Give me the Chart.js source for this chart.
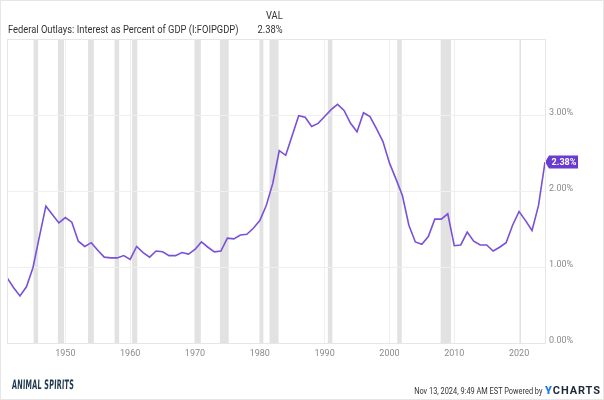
<!DOCTYPE html>
<html>
<head>
<meta charset="utf-8">
<script src="https://cdn.jsdelivr.net/npm/chart.js@4.4.1/dist/chart.umd.min.js"></script>
<style>
  html, body { margin: 0; padding: 0; background: #fff; }
  #wrap { position: relative; width: 604px; height: 400px; overflow: hidden; font-family: Roboto, "Liberation Sans", sans-serif; }
  #frame { position: absolute; left: 0; top: 0; width: 604px; height: 400px; box-sizing: border-box; border: 1px solid #e6e6e6; pointer-events: none; }
  canvas { position: absolute; left: 0; top: 0; }
  .t { position: absolute; white-space: nowrap; color: #333; }
  #title { left: 8px; top: 23px; font-size: 11px; line-height: 14px; transform: scaleX(0.85); transform-origin: left center; }
  #valh { right: 321px; top: 9px; font-size: 11px; line-height: 14px; text-align: right; transform: scaleX(0.85); transform-origin: right center; }
  #valv { right: 321px; top: 23px; font-size: 11px; line-height: 14px; text-align: right; transform: scaleX(0.85); transform-origin: right center; }
  #stamp { right: 62px; top: 385px; font-size: 9px; line-height: 12px; color: #333; transform: scaleX(0.82); transform-origin: right center; }
  #ych { left: 545px; top: 384px; font-size: 11px; line-height: 14px; font-weight: 700; letter-spacing: 0.9px; color: #1e2a3a; }
  #ych b { color: #1f7ae0; }
  #logo { left: 12px; top: 377px; font-family: "DejaVu Sans Condensed", "DejaVu Sans", sans-serif; font-weight: 700; font-size: 13px; line-height: 16px; color: #1f3850; transform: scaleX(0.56) skewX(-4deg); transform-origin: left center; letter-spacing: 0.3px; }
</style>
</head>
<body>
<div id="wrap">
  <canvas id="c" width="604" height="400"></canvas>
  <div class="t" id="title">Federal Outlays: Interest as Percent of GDP (I:FOIPGDP)</div>
  <div class="t" id="valh">VAL</div>
  <div class="t" id="valv">2.38%</div>
  <div class="t" id="logo">ANIMAL SPIRITS</div>
  <div class="t" id="stamp">Nov 13, 2024, 9:49 AM EST Powered by</div>
  <div class="t" id="ych"><b>Y</b>CHARTS</div>
  <div id="frame"></div>
</div>
<script>
// Point dates (each annual value is dated at the end of its year on the chart)
const pointDates = [
  1941,1942,1943,1944,1945,1946,1947,1948,1949,1950,
  1951,1952,1953,1954,1955,1956,1957,1958,1959,1960,
  1961,1962,1963,1964,1965,1966,1967,1968,1969,1970,
  1971,1972,1973,1974,1975,1976,1977,1978,1979,1980,
  1981,1982,1983,1984,1985,1986,1987,1988,1989,1990,
  1991,1992,1993,1994,1995,1996,1997,1998,1999,2000,
  2001,2002,2003,2004,2005,2006,2007,2008,2009,2010,
  2011,2012,2013,2014,2015,2016,2017,2018,2019,2020,
  2021,2022,2023,2024
];
// Interest as percent of GDP (%)
const interestPctGdp = [
  0.86,0.73,0.62,0.74,0.99,1.40,1.80,1.69,1.58,1.65,
  1.59,1.34,1.27,1.32,1.22,1.13,1.12,1.12,1.15,1.10,
  1.27,1.19,1.13,1.21,1.20,1.15,1.15,1.19,1.17,1.23,
  1.33,1.26,1.20,1.21,1.38,1.37,1.42,1.43,1.51,1.61,
  1.81,2.10,2.53,2.47,2.73,2.99,2.97,2.85,2.89,2.98,
  3.07,3.14,3.06,2.89,2.78,3.03,2.98,2.82,2.65,2.37,
  2.16,1.94,1.55,1.33,1.30,1.40,1.63,1.63,1.70,1.28,
  1.29,1.46,1.34,1.29,1.29,1.21,1.26,1.32,1.55,1.73,
  1.61,1.48,1.81,2.38
];
// Recession periods (decimal years)
const recessionStarts = [1945.1,1948.85,1953.5,1957.6,1960.3,1969.9,1973.85,1980.0,1981.5,1990.5,2001.2,2007.9,2020.1];
const recessionEnds   = [1945.8,1949.8,1954.4,1958.3,1961.1,1970.9,1975.2,1980.55,1982.9,1991.2,2001.9,2009.5,2020.3];
// Axis ticks
const xTickYears = [1950,1960,1970,1980,1990,2000,2010,2020];
const yTickValues = [0,1,2,3,4];

const points = pointDates.map((d, i) => ({ x: d, y: interestPctGdp[i] }));

const recessionPlugin = {
  id: 'recessions',
  beforeDraw(chart) {
    const { ctx, chartArea: a, scales: { x } } = chart;
    ctx.save();
    ctx.fillStyle = '#e2e2e2';
    recessionStarts.forEach((s, i) => {
      const x0 = x.getPixelForValue(s), x1 = x.getPixelForValue(recessionEnds[i]);
      ctx.fillRect(x0, a.top, Math.max(1, x1 - x0), a.bottom - a.top);
    });
    ctx.restore();
  },
  afterDraw(chart) {
    const { ctx, chartArea: a } = chart;
    ctx.save();
    ctx.strokeStyle = '#e6e6e6';
    ctx.lineWidth = 1;
    ctx.strokeRect(Math.round(a.left) + 0.5, Math.round(a.top) + 0.5, Math.round(a.right - a.left), Math.round(a.bottom - a.top));
    ctx.restore();
  }
};

const endTagPlugin = {
  id: 'endTag',
  afterDatasetsDraw(chart) {
    const meta = chart.getDatasetMeta(0);
    const last = meta.data[meta.data.length - 1];
    const v = interestPctGdp[interestPctGdp.length - 1];
    const { ctx } = chart;
    const x = last.x, y = last.y;
    ctx.save();
    ctx.fillStyle = '#6a3bd0';
    ctx.beginPath();
    ctx.moveTo(x, y);
    ctx.lineTo(x + 4, y - 6.5);
    ctx.lineTo(x + 33, y - 6.5);
    ctx.lineTo(x + 33, y + 6.5);
    ctx.lineTo(x + 4, y + 6.5);
    ctx.closePath();
    ctx.fill();
    ctx.fillStyle = '#fff';
    ctx.font = 'bold 9px Roboto, sans-serif';
    ctx.textAlign = 'center';
    ctx.textBaseline = 'middle';
    ctx.fillText(v.toFixed(2) + '%', x + 19, y + 0.5);
    ctx.restore();
  }
};

new Chart(document.getElementById('c'), {
  type: 'line',
  data: {
    datasets: [{
      data: points,
      borderColor: '#7a50d8',
      borderWidth: 1.6,
      pointRadius: 0,
      tension: 0,
      fill: false
    }]
  },
  options: {
    responsive: false,
    animation: false,
    devicePixelRatio: 1,
    layout: { padding: { left: 7, top: 39, right: 0, bottom: 0 } },
    plugins: { legend: { display: false }, tooltip: { enabled: false } },
    scales: {
      x: {
        type: 'linear',
        position: 'bottom',
        min: pointDates[0],
        max: pointDates[pointDates.length - 1],
        afterBuildTicks: s => { s.ticks = xTickYears.map(v => ({ value: v })); },
        afterFit: s => { s.height = 57; },
        grid: { color: '#efefef', drawTicks: false, lineWidth: 1 },
        border: { display: false },
        ticks: { color: '#8a8a8a', font: { family: 'Roboto', size: 9 }, padding: 5, maxRotation: 0, autoSkip: false, callback: v => String(v) }
      },
      y: {
        position: 'right',
        min: 0,
        max: 4,
        afterBuildTicks: s => { s.ticks = yTickValues.map(v => ({ value: v })); },
        afterFit: s => { s.width = 59; },
        grid: { color: '#efefef', drawTicks: false, lineWidth: 1 },
        border: { display: false },
        ticks: { color: '#8a8a8a', font: { family: 'Roboto', size: 9 }, padding: 4, labelOffset: -2, callback: v => v === 4 ? '' : v.toFixed(2) + '%' }
      }
    }
  },
  plugins: [recessionPlugin, endTagPlugin]
});
</script>
</body>
</html>
